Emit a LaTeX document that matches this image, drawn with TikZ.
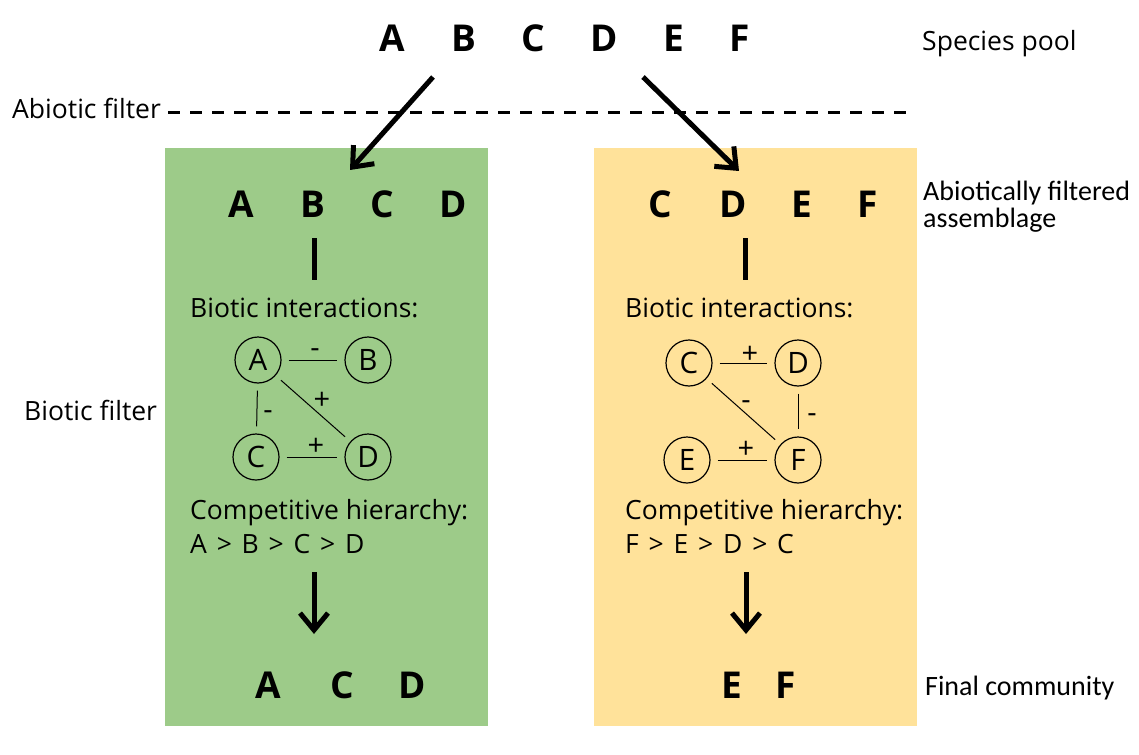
\documentclass[tikz,border=0pt]{standalone}
\usepackage{fontspec}
\setmainfont{Open Sans}
\newfontfamily\calfont{Carlito}
\usetikzlibrary{arrows.meta}
\definecolor{boxgreen}{HTML}{9DCB89}
\definecolor{boxyellow}{HTML}{FFE29A}
\newcommand\mywidesp{\spaceskip 0.37em\relax}
\tikzset{
  big/.style={font=\fontsize{37}{40}\selectfont\bfseries, inner sep=0pt, anchor=base},
  lbl/.style={font=\fontsize{26.5}{30}\selectfont, inner sep=0pt, anchor=base west},
  ord/.style={font=\fontsize{26.5}{30}\selectfont\mywidesp, inner sep=0pt, anchor=base west},
  side/.style={font=\calfont\fontsize{28}{28}\selectfont, inner sep=0pt, anchor=base west, align=left},
  sp/.style={circle, draw, line width=1.2pt, minimum size=46pt, inner sep=0pt, font=\fontsize{29.5}{30}\selectfont},
  sgn/.style={font=\fontsize{29}{30}\selectfont, inner sep=0pt, anchor=base},
  link/.style={line width=1pt, shorten >=7pt, shorten <=7pt},
  bigarrow/.style={line width=5pt, -{Straight Barb[length=17pt,width=28pt,line width=5pt]}},
  bar/.style={line width=5pt},
}
\begin{document}
\begin{tikzpicture}[x=1pt,y=-1pt]
\path[fill=white,use as bounding box] (0,0) rectangle (1139,754);
% boxes
\fill[boxgreen] (165,148) rectangle (488,726);
\fill[boxyellow] (594,148) rectangle (917,726);
% species pool
\node[big] (pA) at (392,52) {A};
\node[big] (pB) at (464,52) {B};
\node[big] (pC) at (533,52) {C};
\node[big] (pD) at (604,52) {D};
\node[big] (pE) at (674,52) {E};
\node[big] (pF) at (740,52) {F};
\node[lbl] (species) at (922,51) {Species pool};
% abiotic filter
\node[lbl] (abf) at (12,119) {Abiotic filter};
\coordinate (dashL) at (168,113);
\coordinate (dashR) at (912,113);
\draw[line width=3pt, dash pattern=on 12pt off 10pt] (dashL) -- (dashR);
% arrows from pool
\coordinate (a1s) at (433,77);
\coordinate (a1e) at (350,170);
\coordinate (a2s) at (643,77);
\coordinate (a2e) at (739,171);
\draw[bigarrow] (a1s) -- (a1e);
\draw[bigarrow] (a2s) -- (a2e);
% right labels
\node[side] (abfass) at (923,200) {Abiotically filtered};
\node[side] (abfass2) at (923,227) {assemblage};
\node[side] (final) at (925,695) {Final community};
\node[lbl] (bf) at (24,420) {Biotic filter};
% ---------- green panel
\node[big] (gA0) at (241,217) {A};
\node[big] (gB0) at (313,217) {B};
\node[big] (gC0) at (382,217) {C};
\node[big] (gD0) at (453,217) {D};
\coordinate (gbar1) at (314,238);
\coordinate (gbar2) at (314,280);
\draw[bar] (gbar1) -- (gbar2);
\node[lbl] (gbi) at (190,317) {Biotic interactions:};
\node[sp] (gA) at (258,360) {A};
\node[sp] (gB) at (368,360) {B};
\node[sp] (gC) at (256,457) {C};
\node[sp] (gD) at (368,457) {D};
\draw[link] (gA) -- (gB);
\draw[link] (gA) -- (gC);
\draw[link] (gA) -- (gD);
\draw[link] (gC) -- (gD);
\node[sgn] (gsAB) at (315,357) {-};
\node[sgn] (gsAC) at (268,419) {-};
\node[sgn] (gsAD) at (322,409) {+};
\node[sgn] (gsCD) at (316,455) {+};
\node[lbl] (gch) at (190,519) {Competitive hierarchy:};
\node[ord] (gord) at (190,553) {A > B > C > D};
\coordinate (gar1) at (314,572);
\coordinate (gar2) at (314,634);
\draw[bigarrow] (gar1) -- (gar2);
\node[big] (gfA) at (268,698) {A};
\node[big] (gfC) at (342,698) {C};
\node[big] (gfD) at (412,698) {D};
% ---------- yellow panel
\node[big] (yC0) at (660,217) {C};
\node[big] (yD0) at (733,217) {D};
\node[big] (yE0) at (802,217) {E};
\node[big] (yF0) at (868,217) {F};
\coordinate (ybar1) at (745,238);
\coordinate (ybar2) at (745,280);
\draw[bar] (ybar1) -- (ybar2);
\node[lbl] (ybi) at (625,317) {Biotic interactions:};
\node[sp] (yC) at (689,363) {C};
\node[sp] (yD) at (798,363) {D};
\node[sp] (yE) at (687,460) {E};
\node[sp] (yF) at (798,460) {F};
\draw[link] (yC) -- (yD);
\draw[link] (yC) -- (yF);
\draw[link] (yD) -- (yF);
\draw[link] (yE) -- (yF);
\node[sgn] (ysCD) at (750,363) {+};
\node[sgn] (ysCF) at (746,409) {-};
\node[sgn] (ysDF) at (812,422) {-};
\node[sgn] (ysEF) at (746,458) {+};
\node[lbl] (ych) at (625,519) {Competitive hierarchy:};
\node[ord] (yord) at (625,553) {F > E > D > C};
\coordinate (yar1) at (746,572);
\coordinate (yar2) at (746,634);
\draw[bigarrow] (yar1) -- (yar2);
\node[big] (yfE) at (732,698) {E};
\node[big] (yfF) at (786,698) {F};
\end{tikzpicture}
\end{document}
